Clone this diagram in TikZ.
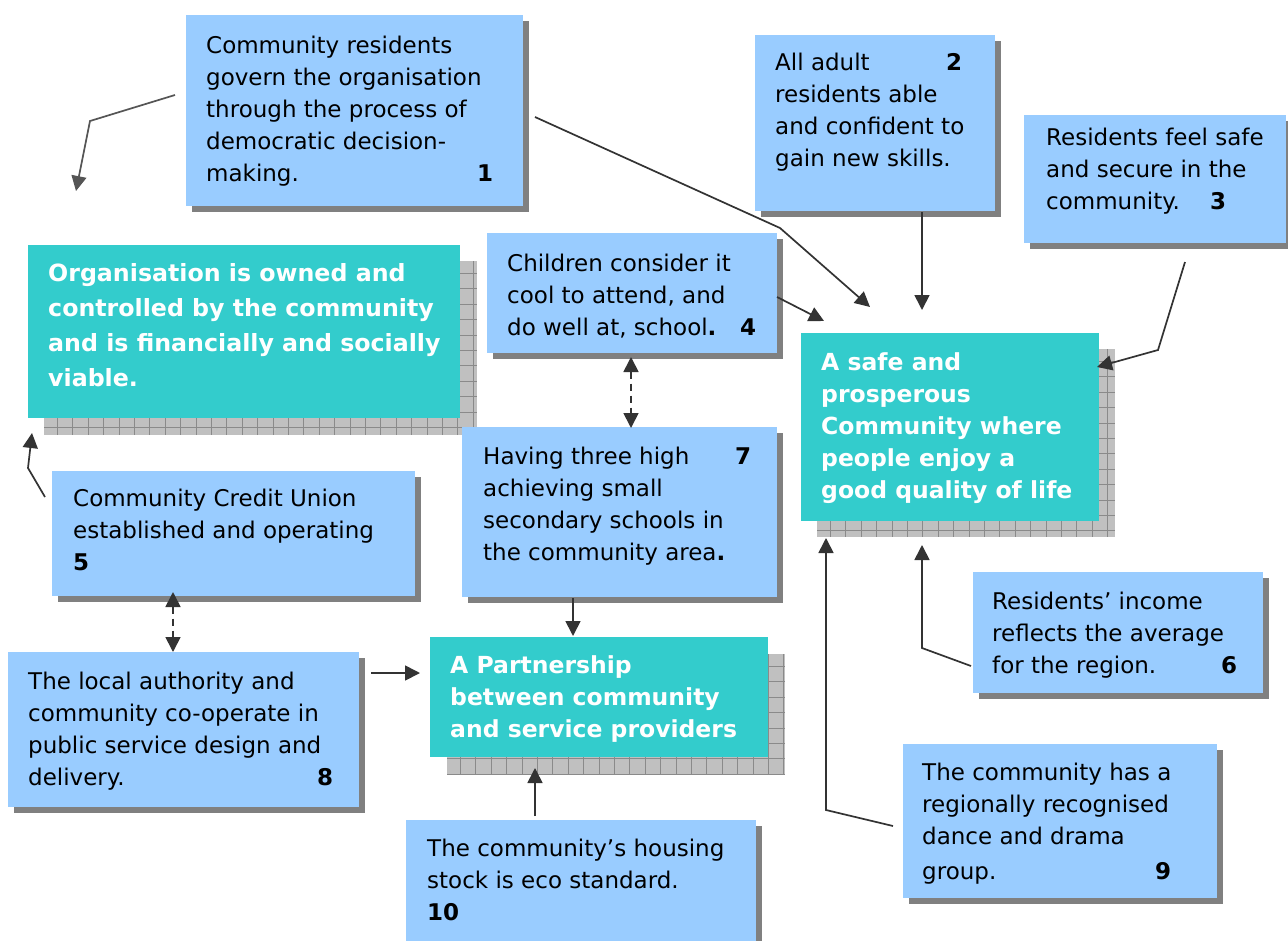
\documentclass[tikz,border=0pt]{standalone}
\usepackage{fontspec}
\setmainfont{DejaVu Sans}
\usetikzlibrary{arrows.meta,shadows}
\definecolor{lblue}{HTML}{99CCFF}
\definecolor{tealbox}{HTML}{33CCCC}
\definecolor{shad}{HTML}{808080}
\definecolor{gridfill}{HTML}{C0C0C0}
\definecolor{gridline}{HTML}{8A8A8A}
\definecolor{arr}{HTML}{333333}
\definecolor{arrlight}{HTML}{555555}
\newcommand{\ts}{\rule{0pt}{24pt}}
\tikzset{
  bluebox/.style={fill=lblue, draw=none, anchor=north west, inner sep=0pt,
    drop shadow={shadow xshift=6pt, shadow yshift=-6pt, fill=shad, opacity=1}},
  tealbx/.style={fill=tealbox, draw=none, anchor=north west, inner sep=0pt},
  txt/.style={anchor=north west, inner sep=0pt, align=left, text=black,
    font=\fontsize{23}{32}\selectfont},
  wtxt/.style={anchor=north west, inner sep=0pt, align=left, text=white,
    font=\fontsize{23.5}{32}\selectfont\bfseries},
  conn/.style={draw=arr, line width=1.7pt, -{Triangle[length=15pt,width=15pt]}},
  dconn/.style={draw=arr, line width=1.7pt, dash pattern=on 7pt off 5pt,
    {Triangle[length=15pt,width=15pt]}-{Triangle[length=15pt,width=15pt]}},
  gline/.style={draw=gridline, line width=0.7pt},
}
\newcommand{\gridshadow}[4]{%
  \fill[gridfill] (#1,#2) rectangle (#3,#4);
  \begin{scope}
    \clip (#1,#2) rectangle (#3,#4);
    \foreach \k in {1,...,30}{
      \draw[gline] ({#1+15.4*\k-2},#2) -- ({#1+15.4*\k-2},#4);
    }
    \foreach \k in {1,...,14}{
      \draw[gline] (#1,{#2+15.4*\k-3}) -- (#3,{#2+15.4*\k-3});
    }
  \end{scope}
}
\begin{document}
\begin{tikzpicture}[x=1pt,y=-1pt]
\useasboundingbox (0,0) rectangle (1288,940);
\fill[white] (0,0) rectangle (1288,940);

% ---- teal boxes with grid shadows ----
\gridshadow{44}{261}{477}{435}
\node[tealbx, minimum width=432pt, minimum height=173pt] (org) at (28,245) {};
\node[wtxt, font=\fontsize{23.7}{35}\selectfont\bfseries] (orgt) at (48,257)
 {\ts Organisation is owned and\\ controlled by the community\\ and is financially and socially\\ viable.};

\gridshadow{817}{349}{1115}{537}
\node[tealbx, minimum width=298pt, minimum height=188pt] (safe) at (801,333) {};
\node[wtxt] (safet) at (821,346)
 {\ts A safe and\\ prosperous\\ Community where\\ people enjoy a\\ good quality of life};

\gridshadow{447}{654}{785}{774}
\node[tealbx, minimum width=338pt, minimum height=120pt] (part) at (430,637) {};
\node[wtxt] (partt) at (450,649)
 {\ts A Partnership\\ between community\\ and service providers};

% ---- blue boxes ----
\node[bluebox, minimum width=337pt, minimum height=191pt] (b1) at (186,15) {};
\node[txt] (t1) at (206,29)
 {\ts Community residents\\ govern the organisation\\ through the process of\\ democratic decision-\\ \makebox[271pt][l]{making.}\textbf{1}};

\node[bluebox, minimum width=240pt, minimum height=176pt] (b2) at (755,35) {};
\node[txt] (t2) at (775,46)
 {\ts\makebox[171pt][l]{All adult}\textbf{2}\\ residents able\\ and confident to\\ gain new skills.};

\node[bluebox, minimum width=262pt, minimum height=128pt] (b3) at (1024,115) {};
\node[txt] (t3) at (1046,121)
 {\ts Residents feel safe\\ and secure in the\\ \makebox[164pt][l]{community.}\textbf{3}};

\node[bluebox, minimum width=290pt, minimum height=120pt] (b4) at (487,233) {};
\node[txt] (t4) at (507,247)
 {\ts Children consider it\\ cool to attend, and\\ \makebox[233pt][l]{do well at, school\textbf{.}}\textbf{4}};

\node[bluebox, minimum width=315pt, minimum height=170pt] (b7) at (462,427) {};
\node[txt] (t7) at (483,440)
 {\ts\makebox[252pt][l]{Having three high}\textbf{7}\\ achieving small\\ secondary schools in\\ the community area\textbf{.}};

\node[bluebox, minimum width=363pt, minimum height=125pt] (b5) at (52,471) {};
\node[txt] (t5) at (73,482)
 {\ts Community Credit Union\\ established and operating\\ \textbf{5}};

\node[bluebox, minimum width=351pt, minimum height=155pt] (b8) at (8,652) {};
\node[txt] (t8) at (28,665)
 {\ts The local authority and\\ community co-operate in\\ public service design and\\ \makebox[289pt][l]{delivery.}\textbf{8}};

\node[bluebox, minimum width=290pt, minimum height=121pt] (b6) at (973,572) {};
\node[txt] (t6) at (992,585)
 {\ts Residents’ income\\ reflects the average\\ \makebox[229pt][l]{for the region.}\textbf{6}};

\node[bluebox, minimum width=314pt, minimum height=154pt] (b9) at (903,744) {};
\node[txt] (t9) at (922,756)
 {\ts The community has a\\ regionally recognised\\ dance and drama\\[3pt] \makebox[233pt][l]{group.}\textbf{9}};

\node[bluebox, minimum width=350pt, minimum height=130pt] (b10) at (406,820) {};
\node[txt] (t10) at (427,832)
 {\ts The community’s housing\\ stock is eco standard.\\ \textbf{10}};

% ---- connector points ----
\coordinate (a1s) at (175,95);   \coordinate (a1b) at (90,121);  \coordinate (a1e) at (76,191);
\coordinate (a2s) at (535,117);  \coordinate (a2b) at (780,228); \coordinate (a2e) at (870,307);
\coordinate (a3s) at (922,212);  \coordinate (a3e) at (922,310);
\coordinate (a4s) at (1185,262); \coordinate (a4b) at (1158,350); \coordinate (a4e) at (1097,367);
\coordinate (a5s) at (777,297);  \coordinate (a5e) at (824,321);
\coordinate (a6s) at (631,357);  \coordinate (a6e) at (631,428);
\coordinate (a7s) at (573,598);  \coordinate (a7e) at (573,636);
\coordinate (a8s) at (45,497);   \coordinate (a8b) at (28,468);  \coordinate (a8e) at (32,433);
\coordinate (a9s) at (173,592);  \coordinate (a9e) at (173,652);
\coordinate (a10s) at (371,673); \coordinate (a10e) at (420,673);
\coordinate (a11s) at (535,816); \coordinate (a11e) at (535,768);
\coordinate (a12s) at (971,666); \coordinate (a12b) at (922,648); \coordinate (a12e) at (922,545);
\coordinate (a13s) at (893,826); \coordinate (a13b) at (826,810); \coordinate (a13e) at (826,538);

% ---- connectors ----
\draw[conn, draw=arrlight] (a1s) -- (a1b) -- (a1e);
\draw[conn] (a2s) -- (a2b) -- (a2e);
\draw[conn] (a3s) -- (a3e);
\draw[conn] (a4s) -- (a4b) -- (a4e);
\draw[conn] (a5s) -- (a5e);
\draw[dconn] (a6s) -- (a6e);
\draw[conn] (a7s) -- (a7e);
\draw[conn] (a8s) -- (a8b) -- (a8e);
\draw[dconn] (a9s) -- (a9e);
\draw[conn] (a10s) -- (a10e);
\draw[conn] (a11s) -- (a11e);
\draw[conn] (a12s) -- (a12b) -- (a12e);
\draw[conn] (a13s) -- (a13b) -- (a13e);
\end{tikzpicture}
\end{document}
